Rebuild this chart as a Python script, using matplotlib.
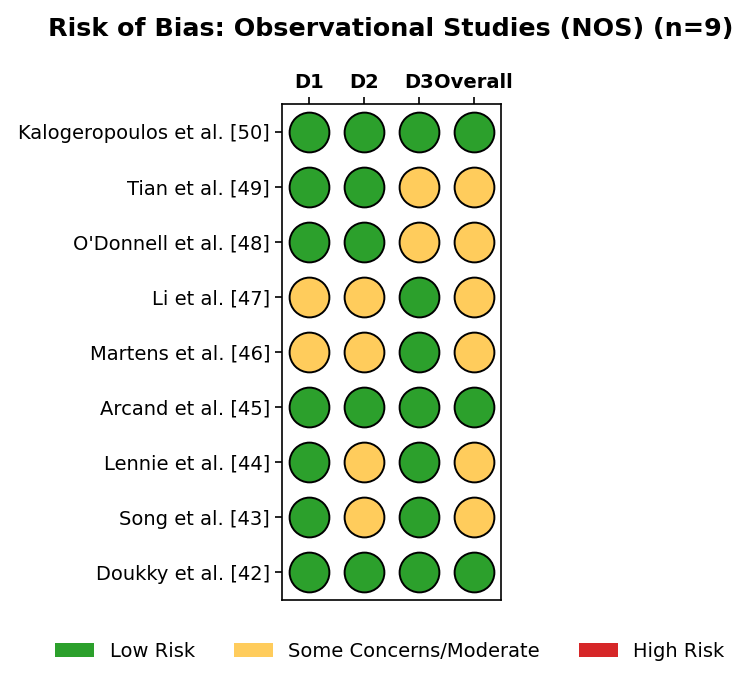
import matplotlib.pyplot as plt
import numpy as np
from matplotlib.patches import Patch

studies = [
    "Kalogeropoulos et al. [50]",
    "Tian et al. [49]",
    "O'Donnell et al. [48]",
    "Li et al. [47]",
    "Martens et al. [46]",
    "Arcand et al. [45]",
    "Lennie et al. [44]",
    "Song et al. [43]",
    "Doukky et al. [42]",
]
domains = ["D1", "D2", "D3", "Overall"]

# L = low risk, M = some concerns/moderate, H = high risk
ratings = [
    ["L", "L", "L", "L"],
    ["L", "L", "M", "M"],
    ["L", "L", "M", "M"],
    ["M", "M", "L", "M"],
    ["M", "M", "L", "M"],
    ["L", "L", "L", "L"],
    ["L", "M", "L", "M"],
    ["L", "M", "L", "M"],
    ["L", "L", "L", "L"],
]

colors = {"L": "#2ca02c", "M": "#ffcc5c", "H": "#d62728"}
labels = {"L": "Low Risk", "M": "Some Concerns/Moderate", "H": "High Risk"}

fig = plt.figure(figsize=(7.5, 6.84), dpi=100)
ax = fig.add_axes([0.376, 0.123, 0.292, 0.725])

n = len(studies)
for i, row in enumerate(ratings):
    y = n - 1 - i
    for j, r in enumerate(row):
        ax.scatter(j, y, s=820, color=colors[r], edgecolor="black", linewidth=1.4, zorder=3)

ax.set_xlim(-0.5, 3.5)
ax.set_ylim(-0.5, n - 0.5)
ax.set_xticks(np.arange(len(domains)))
ax.set_xticklabels(domains, fontsize=14, fontweight="bold")
ax.xaxis.tick_top()
ax.set_yticks(np.arange(n))
ax.set_yticklabels(studies[::-1], fontsize=14)
for s in ax.spines.values():
    s.set_linewidth(1.2)
ax.tick_params(width=1.2, length=5)

fig.suptitle("Risk of Bias: Observational Studies (NOS) (n=9)", fontsize=18.3,
             fontweight="bold", x=0.521, y=0.975)

handles = [Patch(facecolor=colors[k], label=labels[k]) for k in ["L", "M", "H"]]
fig.legend(handles=handles, loc="center", ncol=3, frameon=False,
           fontsize=14, bbox_to_anchor=(0.52, 0.048))

fig.savefig("out.png", dpi=100)
